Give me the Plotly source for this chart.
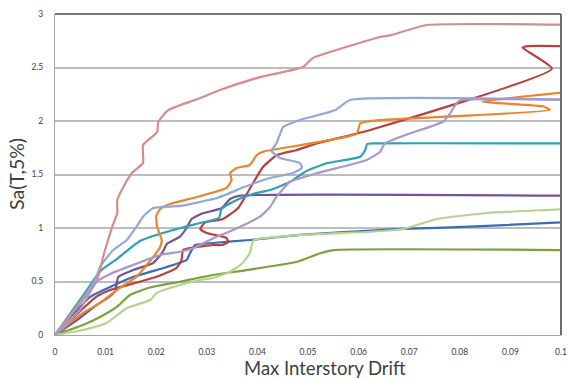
import plotly.graph_objects as go

# Incremental dynamic analysis curves: spectral acceleration vs. max interstory drift
drift_pink = [0, 0.0083, 0.0095, 0.0113, 0.0123, 0.0123, 0.0132, 0.0152, 0.0174, 0.0174, 0.0202, 0.0204,
              0.0223, 0.0287, 0.0326, 0.0405, 0.049, 0.051, 0.0543, 0.0642, 0.0662, 0.0735, 0.1]
sa_pink = [0, 0.514, 0.729, 1.01, 1.14, 1.26, 1.355, 1.514, 1.607, 1.776, 1.897, 1.99,
           2.10, 2.215, 2.29, 2.41, 2.505, 2.59, 2.645, 2.785, 2.80, 2.897, 2.9]

drift_red = [0, 0.0082, 0.0109, 0.0201, 0.024, 0.025, 0.0253, 0.0267, 0.0312, 0.033, 0.0342, 0.0339,
             0.030, 0.0287, 0.0296, 0.0332, 0.0362, 0.0395, 0.0411, 0.0438, 0.0478, 0.0517, 0.0623,
             0.0982, 0.0924, 0.0935, 0.1]
sa_red = [0, 0.358, 0.42, 0.545, 0.626, 0.70, 0.794, 0.813, 0.841, 0.841, 0.869, 0.907,
          0.953, 0.99, 1.05, 1.084, 1.187, 1.449, 1.57, 1.68, 1.729, 1.79, 1.916,
          2.49, 2.685, 2.70, 2.70]

drift_orange = [0, 0.0055, 0.0089, 0.0122, 0.0161, 0.0194, 0.0208, 0.0211, 0.0202, 0.02, 0.0208, 0.0227,
                0.0273, 0.0339, 0.0349, 0.0346, 0.0359, 0.0385, 0.0399, 0.0411, 0.0596, 0.0603, 0.0613,
                0.0642, 0.0978, 0.0966, 0.0844, 0.1]
sa_orange = [0, 0.206, 0.299, 0.42, 0.545, 0.729, 0.825, 0.888, 1.009, 1.112, 1.178, 1.224,
             1.28, 1.374, 1.449, 1.514, 1.561, 1.589, 1.682, 1.713, 1.879, 1.978, 1.993,
             2.009, 2.103, 2.135, 2.18, 2.265]

drift_ltblue = [0, 0.0063, 0.0082, 0.0089, 0.0115, 0.0142, 0.0161, 0.0174, 0.0194, 0.0247, 0.032, 0.0379,
                0.0425, 0.047, 0.0488, 0.0484, 0.0445, 0.0428, 0.0438, 0.0451, 0.0484, 0.0553, 0.0583, 0.1]
sa_ltblue = [0, 0.393, 0.545, 0.638, 0.794, 0.888, 1.012, 1.106, 1.187, 1.206, 1.28, 1.393,
             1.467, 1.514, 1.561, 1.607, 1.654, 1.72, 1.794, 1.944, 2.009, 2.10, 2.196, 2.2]

drift_teal = [0, 0.0063, 0.0082, 0.0092, 0.0122, 0.0168, 0.0233, 0.0287, 0.0324, 0.0329, 0.0359, 0.0391,
              0.0425, 0.0464, 0.0497, 0.0537, 0.0603, 0.0613, 0.0617, 0.0626, 0.1]
sa_teal = [0, 0.42, 0.551, 0.607, 0.71, 0.879, 0.981, 1.047, 1.093, 1.178, 1.262, 1.318,
           1.355, 1.43, 1.533, 1.605, 1.666, 1.729, 1.785, 1.79, 1.79]

drift_purple = [0, 0.0049, 0.0082, 0.0109, 0.0119, 0.0125, 0.0154, 0.0194, 0.0213, 0.0221, 0.0247, 0.026,
                0.027, 0.0292, 0.0329, 0.0346, 0.0366, 0.1]
sa_purple = [0, 0.159, 0.28, 0.364, 0.411, 0.542, 0.607, 0.673, 0.776, 0.85, 0.919, 1.0,
             1.084, 1.137, 1.184, 1.271, 1.302, 1.302]

drift_ltpurple = [0, 0.0049, 0.0082, 0.0109, 0.0154, 0.0208, 0.0247, 0.0273, 0.0313, 0.0352, 0.0405, 0.0425,
                  0.0438, 0.0464, 0.0517, 0.0616, 0.0642, 0.0652, 0.0702, 0.0767, 0.0781, 0.0796, 0.0806, 0.1]
sa_ltpurple = [0, 0.234, 0.495, 0.57, 0.654, 0.748, 0.778, 0.81, 0.904, 0.981, 1.106, 1.196,
               1.293, 1.43, 1.511, 1.636, 1.71, 1.79, 1.885, 1.993, 2.072, 2.18, 2.2, 2.2]

drift_blue = [0, 0.0069, 0.0109, 0.0154, 0.0221, 0.026, 0.0267, 0.0277, 0.0312, 0.0385, 0.0484, 0.0642,
              0.0688, 0.082, 0.1]
sa_blue = [0, 0.355, 0.449, 0.542, 0.636, 0.701, 0.766, 0.841, 0.86, 0.888, 0.935, 0.981,
           0.991, 1.012, 1.053]

drift_green = [0, 0.0055, 0.0089, 0.0122, 0.0148, 0.0188, 0.0247, 0.0312, 0.0379, 0.0478, 0.0524, 0.055, 0.1]
sa_green = [0, 0.093, 0.168, 0.262, 0.374, 0.444, 0.498, 0.561, 0.607, 0.685, 0.764, 0.794, 0.794]

drift_ltgreen = [0, 0.0055, 0.0102, 0.0142, 0.0188, 0.0201, 0.0233, 0.0287, 0.0312, 0.0346, 0.0369, 0.0385,
                 0.0389, 0.0393, 0.0484, 0.0623, 0.0688, 0.0755, 0.0854, 0.1]
sa_ltgreen = [0, 0.047, 0.112, 0.252, 0.327, 0.393, 0.449, 0.514, 0.533, 0.592, 0.664, 0.766,
              0.841, 0.888, 0.935, 0.965, 0.991, 1.084, 1.14, 1.175]

x_ticks = [0, 0.01, 0.02, 0.03, 0.04, 0.05, 0.06, 0.07, 0.08, 0.09, 0.1]
x_tick_text = ["0", "0.01", "0.02", "0.03", "0.04", "0.05", "0.06", "0.07", "0.08", "0.09", "0.1"]
y_ticks = [0, 0.5, 1, 1.5, 2, 2.5, 3]
y_tick_text = ["0", "0.5", "1", "1.5", "2", "2.5", "3"]

series = [
    (drift_blue, sa_blue, "#3A6DB4"),
    (drift_red, sa_red, "#B8403D"),
    (drift_green, sa_green, "#78A33C"),
    (drift_purple, sa_purple, "#74529C"),
    (drift_teal, sa_teal, "#2FA0B9"),
    (drift_orange, sa_orange, "#E8852E"),
    (drift_ltblue, sa_ltblue, "#8FAADA"),
    (drift_pink, sa_pink, "#D68C8A"),
    (drift_ltgreen, sa_ltgreen, "#B5D28E"),
    (drift_ltpurple, sa_ltpurple, "#A898C8"),
]

fig = go.Figure()
for xs, ys, col in series:
    fig.add_trace(go.Scatter(
        x=xs, y=ys, mode="lines",
        line=dict(color=col, width=2.2, shape="spline", smoothing=0.45),
        showlegend=False, hoverinfo="skip",
    ))

font_family = "Lato, 'Open Sans', sans-serif"

fig.update_layout(
    width=567, height=378,
    margin=dict(l=55, r=6, t=14, b=43, autoexpand=False),
    paper_bgcolor="white", plot_bgcolor="white",
    font=dict(family=font_family, color="#404040"),
    xaxis=dict(
        range=[0, 0.1], tickvals=x_ticks, ticktext=x_tick_text,
        showgrid=False, zeroline=False, automargin=False,
        showline=True, linecolor="#A6A6A6", linewidth=1,
        ticks="", ticklabelstandoff=9,
        tickfont=dict(size=8.5, color="#404040"),
    ),
    yaxis=dict(
        range=[0, 3], tickvals=y_ticks, ticktext=y_tick_text,
        showgrid=True, gridcolor="#BDBDBD", gridwidth=1.5,
        zeroline=False, automargin=False,
        showline=True, linecolor="#A6A6A6", linewidth=1,
        ticks="", ticklabelstandoff=9,
        tickfont=dict(size=8.5, color="#404040"),
    ),
    annotations=[
        dict(text="Max Interstory Drift", xref="paper", yref="paper",
             x=0.534, y=0, yshift=-20, xanchor="center", yanchor="top",
             showarrow=False, font=dict(size=18.5, color="#404040")),
        dict(text="Sa(T,5%)", xref="paper", yref="paper",
             x=0, xshift=-25, y=0.5, xanchor="right", yanchor="middle",
             textangle=-90, showarrow=False, font=dict(size=19.5, color="#404040")),
    ],
    shapes=[
        dict(type="line", xref="paper", yref="paper", x0=0, x1=1, y0=1, y1=1,
             line=dict(color="#7A7A7A", width=2)),
        dict(type="line", xref="paper", yref="paper", x0=1, x1=1, y0=0, y1=1,
             line=dict(color="#6E6E6E", width=2)),
    ],
)

fig.write_html("out.html")
